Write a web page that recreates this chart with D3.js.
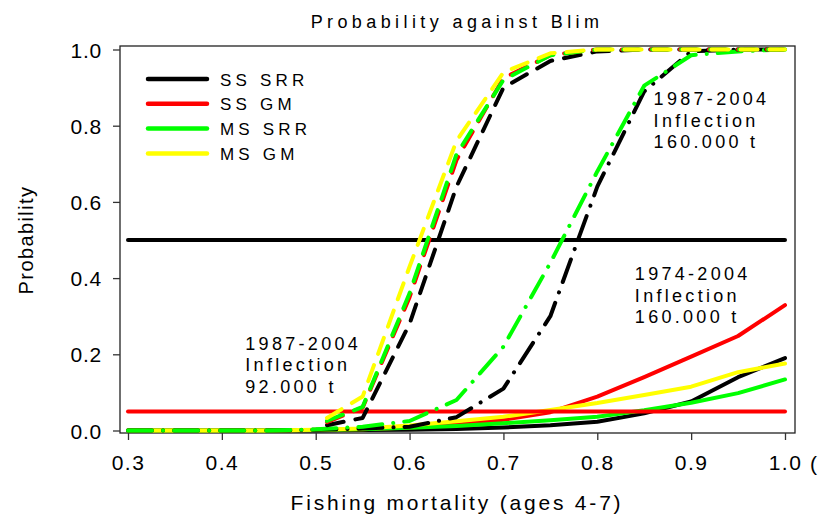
<!DOCTYPE html>
<html><head><meta charset="utf-8">
<script src="https://cdn.jsdelivr.net/npm/d3@7"></script>
<style>
html,body{margin:0;padding:0;background:#fff;}
svg{display:block;font-family:"Liberation Sans",Arial,sans-serif;}
</style></head>
<body><svg id="chart" width="818" height="515"></svg>
<script>
// ---------- data ----------
const fGrid = [0.3,0.35,0.4,0.45,0.5,0.55,0.6,0.65,0.7,0.75,0.8,0.85,0.9,0.95,1.0];
const fDashed = [0.512,0.55,0.6,0.65,0.7,0.75,0.8,0.85,0.9,0.95,1.0];

// 1974-2004, inflection 160.000 t (solid)
const solidSSSRR = [0,0,0,0,0,0.001,0.002,0.004,0.008,0.014,0.023,0.045,0.076,0.14,0.19];
const solidSSGM  = [0,0,0,0,0.001,0.003,0.008,0.015,0.028,0.048,0.089,0.14,0.194,0.248,0.329];
const solidMSSRR = [0,0,0,0,0.001,0.003,0.007,0.012,0.019,0.027,0.036,0.053,0.073,0.098,0.134];
const solidMSGM  = [0,0,0,0,0.002,0.005,0.013,0.024,0.036,0.054,0.072,0.093,0.115,0.153,0.176];

// 1987-2004, inflection 160.000 t (dash-dot)
const dashDotSSSRR = [0,0,0,0,0.002,0.005,0.01,0.035,0.11,0.30,0.64,0.89,0.995,1,1];
const dashDotMSSRR = [0,0,0,0,0.003,0.01,0.025,0.08,0.22,0.44,0.68,0.905,0.985,0.995,1];

// 1987-2004, inflection 92.000 t (dashed)
const dashedSSSRR = [0.014,0.033,0.28,0.64,0.90,0.97,0.995,1,1,1,1];
const dashedSSGM  = [0.022,0.060,0.35,0.71,0.925,0.985,1,1,1,1,1];
const dashedMSSRR = [0.025,0.062,0.36,0.725,0.92,0.985,1,1,1,1,1];
const dashedMSGM  = [0.033,0.089,0.43,0.76,0.94,0.99,1,1,1,1,1];

const refLevels = [0.5, 0.05];
const refColors = ["#000000", "#ff0000"];

const legendLabels = ["SS SRR","SS GM","MS SRR","MS GM"];
const seriesColors = ["#000000","#ff0000","#00ff00","#ffff00"];

const xTicks = [0.3,0.4,0.5,0.6,0.7,0.8,0.9,1.0];
const yTicks = [0.0,0.2,0.4,0.6,0.8,1.0];

const annotations = [
  {lines:["1987-2004","Inflection","160.000 t"], f:0.86,  p:0.854},
  {lines:["1974-2004","Inflection","160.000 t"], f:0.84,  p:0.395},
  {lines:["1987-2004","Inflection","92.000 t"],  f:0.425, p:0.212}
];

// ---------- drawing ----------
const svg = d3.select("#chart");
const x = d3.scaleLinear().domain([0.3,1.0]).range([128,785]);
const y = d3.scaleLinear().domain([0,1]).range([430.5,49.5]);

const frameL = x(0.3)-8, frameR = x(1.0)+10, frameT = y(1)-3.5, frameB = y(0)+2.5;

// frame
svg.append("rect").attr("x",frameL).attr("y",frameT).attr("width",frameR-frameL).attr("height",frameB-frameT)
  .attr("fill","none").attr("stroke","#222").attr("stroke-width",1.3);

// axes
const yAxis = d3.axisLeft(y).tickValues(yTicks).tickFormat(d3.format(".1f")).tickSize(7).tickSizeOuter(0);
const gy = svg.append("g").attr("transform",`translate(${frameL},0)`).call(yAxis);
gy.select(".domain").remove();
gy.selectAll("line").attr("stroke","#333").attr("stroke-width",1.3);
gy.selectAll("text").attr("font-size",21).attr("letter-spacing",0.8).attr("x",-18).attr("dy","0.36em")
  .attr("fill","#000").style("font-family","'Liberation Sans',Arial,sans-serif");

const xAxis = d3.axisBottom(x).tickValues(xTicks).tickFormat(d3.format(".1f")).tickSize(7).tickSizeOuter(0);
const gx = svg.append("g").attr("transform",`translate(0,${frameB})`).call(xAxis);
gx.select(".domain").remove();
gx.selectAll("line").attr("stroke","#333").attr("stroke-width",1.3);
gx.selectAll("text").attr("font-size",21).attr("letter-spacing",1.5).attr("y",22).attr("dy","0.71em")
  .attr("fill","#000").style("font-family","'Liberation Sans',Arial,sans-serif");

// stray clipped glyph at right edge
svg.append("text").attr("x",810).attr("y",471).attr("font-size",21).text("(");

const line = (xs) => d3.line().x((d,i)=>x(xs[i])).y(d=>y(d));

function drawSeries(vals, xs, color, dash){
  svg.append("path").datum(vals).attr("d",line(xs))
    .attr("fill","none").attr("stroke",color).attr("stroke-width",4)
    .attr("stroke-linecap","round").attr("stroke-linejoin","round")
    .attr("stroke-dasharray",dash||null);
}

// solid
[solidSSSRR,solidSSGM,solidMSSRR,solidMSGM].forEach((v,i)=>drawSeries(v,fGrid,seriesColors[i]));
// reference lines
refLevels.forEach((lv,i)=>drawSeries(fGrid.map(()=>lv),fGrid,refColors[i]));
// dash-dot
drawSeries(dashDotSSSRR,fGrid,seriesColors[0],"24,11,0.1,11");
drawSeries(dashDotMSSRR,fGrid,seriesColors[2],"24,11,0.1,11");
// dashed
[dashedSSSRR,dashedSSGM,dashedMSSRR,dashedMSGM].forEach((v,i)=>drawSeries(v,fDashed,seriesColors[i],"17,12"));

// legend
const lg = svg.append("g");
legendLabels.forEach((lab,i)=>{
  const ly = 79 + i*24.8;
  lg.append("line").attr("x1",148).attr("x2",207).attr("y1",ly).attr("y2",ly)
    .attr("stroke",seriesColors[i]).attr("stroke-width",4.5).attr("stroke-linecap","round");
  lg.append("text").attr("x",220).attr("y",ly+6.5).attr("font-size",17).attr("letter-spacing",4.2).text(lab);
});

// annotations
annotations.forEach(a=>{
  const t = svg.append("text").attr("font-size",18).attr("letter-spacing",3.3);
  a.lines.forEach((s,i)=>{
    t.append("tspan").attr("x",x(a.f)).attr("y",y(a.p)+i*21.5).text(s);
  });
});

// title and axis titles
svg.append("text").attr("x",457).attr("y",28).attr("text-anchor","middle")
  .attr("font-size",18).attr("letter-spacing",4.4).text("Probability against Blim");
svg.append("text").attr("x",457).attr("y",510).attr("text-anchor","middle")
  .attr("font-size",21).attr("letter-spacing",2.8).text("Fishing mortality (ages 4-7)");
svg.append("text").attr("transform","translate(33,240) rotate(-90)").attr("text-anchor","middle")
  .attr("font-size",20).attr("letter-spacing",1.4).text("Probability");
</script>
</body></html>
